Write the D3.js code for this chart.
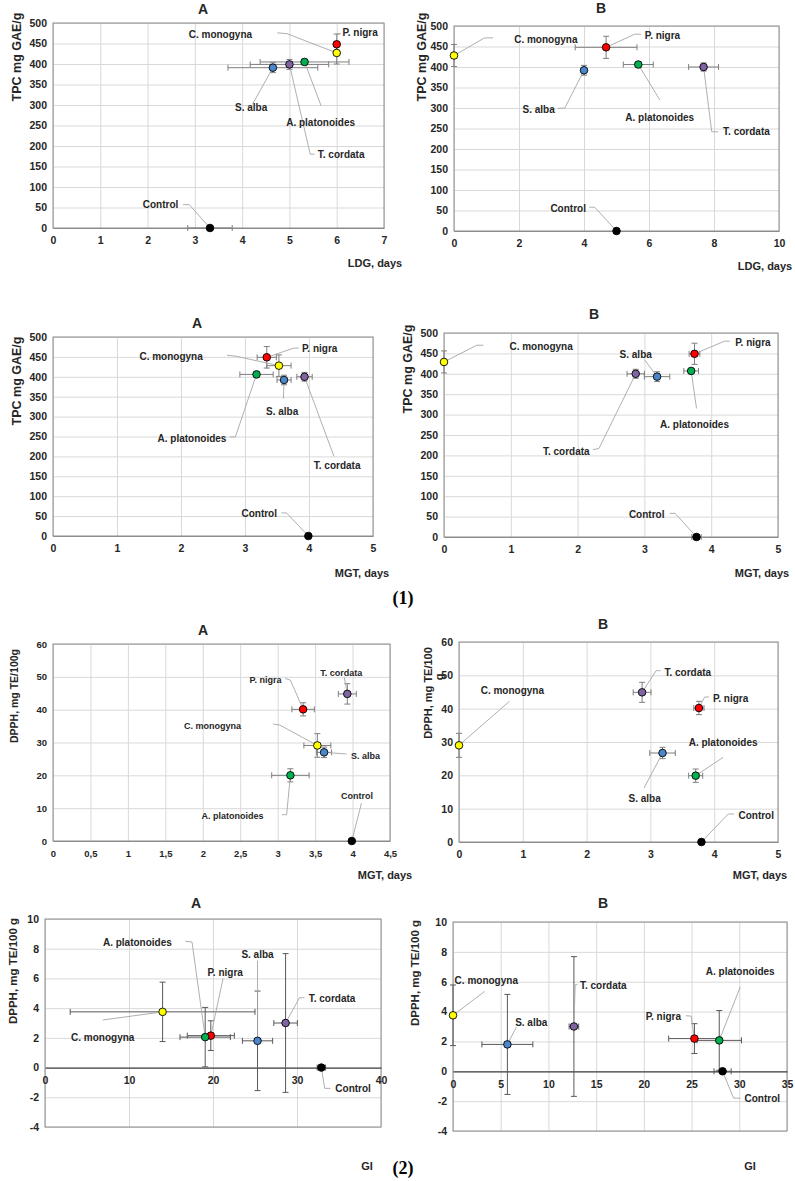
<!DOCTYPE html>
<html>
<head>
<meta charset="utf-8">
<script src="https://cdn.jsdelivr.net/npm/d3@7"></script>
<style>
  body { margin: 0; background: #fff; }
  svg { display: block; }
  text { font-family: "Liberation Sans", Arial, sans-serif; fill: #262626; }
  text.partno { font-family: "Liberation Serif", "Times New Roman", serif; fill: #000; }
</style>
</head>
<body>
<script>
// order of every series array below
const species = ["P. nigra", "C. monogyna", "A. platonoides", "S. alba", "T. cordata", "Control"];
const speciesColor = ["#ff0000", "#ffff00", "#00b050", "#4a86c8", "#8064a2", "#000000"];

// (1) TPC vs LDG, A
const ldgA_x    = [6.0, 6.0, 5.32, 4.65, 5.0, 3.32];
const ldgA_y    = [448, 427, 405, 391, 399, 0];
const ldgA_xErr = [0, 0, 0.94, 0.95, 0.83, 0.47];
const ldgA_yErr = [25, 27, 7, 12, 12, 0];

// (1) TPC vs LDG, B
const ldgB_x    = [4.68, 0, 5.67, 4.0, 7.68, 5.0];
const ldgB_y    = [448, 428, 406, 392, 400, 0];
const ldgB_xErr = [0.95, 0, 0.46, 0, 0.46, 0];
const ldgB_yErr = [27, 27, 6, 12, 10, 0];

// (1) TPC vs MGT, A
const mgtA_x    = [3.34, 3.53, 3.18, 3.61, 3.93, 3.99];
const mgtA_y    = [449, 428, 406, 392, 400, 0];
const mgtA_xErr = [0.15, 0.19, 0.26, 0.11, 0.12, 0];
const mgtA_yErr = [27, 27, 6, 12, 11, 0];

// (1) TPC vs MGT, B
const mgtB_x    = [3.75, 0, 3.7, 3.19, 2.87, 3.78];
const mgtB_y    = [449, 429, 407, 393, 400, 0];
const mgtB_xErr = [0.08, 0, 0.11, 0.19, 0.13, 0.07];
const mgtB_yErr = [26, 27, 6, 12, 11, 0];

// (2) DPPH vs MGT, A
const dppMgtA_x    = [3.34, 3.53, 3.17, 3.62, 3.93, 3.99];
const dppMgtA_y    = [40.1, 29.1, 20.0, 27.0, 44.8, 0];
const dppMgtA_xErr = [0.15, 0.18, 0.25, 0.1, 0.12, 0];
const dppMgtA_yErr = [2.0, 3.6, 2.0, 1.6, 3.1, 0];

// (2) DPPH vs MGT, B
const dppMgtB_x    = [3.76, 0, 3.71, 3.19, 2.87, 3.8];
const dppMgtB_y    = [40.2, 29.0, 19.9, 26.7, 44.9, 0];
const dppMgtB_xErr = [0.08, 0, 0.11, 0.2, 0.14, 0];
const dppMgtB_yErr = [2.0, 3.6, 2.0, 1.7, 3.0, 0];

// (2) DPPH vs GI, A
const giA_x    = [19.74, 14.0, 19.07, 25.3, 28.64, 32.9];
const giA_y    = [2.15, 3.75, 2.05, 1.8, 3.0, 0];
const giA_xErr = [2.8, 11.0, 3.0, 1.8, 1.4, 0.5];
const giA_yErr = [1.0, 2.0, 2.0, 3.35, 4.67, 0];

// (2) DPPH vs GI, B
const giB_x    = [25.3, 0, 27.9, 5.7, 12.67, 28.25];
const giB_y    = [2.19, 3.75, 2.07, 1.8, 3.0, 0];
const giB_xErr = [2.7, 0, 2.33, 2.67, 0.5, 0.9];
const giB_yErr = [1.0, 2.03, 2.0, 3.35, 4.68, 0];

// label placement (data units): t = text anchor point, a = text-anchor, l = leader points before the marker
const panels = [
  { title: "A", titlePos: [203, 9], box: [53, 23, 384, 228], xDomain: [0, 7], xStep: 1, yDomain: [0, 500], yStep: 50,
    xs: ldgA_x, ys: ldgA_y, xe: ldgA_xErr, ye: ldgA_yErr,
    yTitle: "TPC mg GAE/g", yTitlePos: [17, 57], yTitleSize: 12.5, xTitle: "LDG, days", xTitlePos: [375, 263],
    labels: [
      { t: [6.12, 476], a: "start", l: [[6.09, 474], [6.0, 474]] },
      { t: [4.21, 471], a: "end", l: [[4.74, 476], [4.95, 474]] },
      { t: [5.66, 257], a: "middle", l: [[5.67, 298]] },
      { t: [4.19, 295], a: "middle", l: [[4.22, 302]] },
      { t: [5.6, 179], a: "start", l: [[5.53, 180], [5.44, 180]] },
      { t: [2.65, 57], a: "end", l: [[2.75, 57], [2.88, 57]] }
    ] },
  { title: "B", titlePos: [601, 8], box: [454, 26, 779, 231], xDomain: [0, 10], xStep: 2, yDomain: [0, 500], yStep: 50,
    xs: ldgB_x, ys: ldgB_y, xe: ldgB_xErr, ye: ldgB_yErr,
    yTitle: "TPC mg GAE/g", yTitlePos: [422, 57], yTitleSize: 12.5, xTitle: "LDG, days", xTitlePos: [765, 266],
    labels: [
      { t: [5.87, 478], a: "start", l: [[5.75, 480], [5.56, 480]] },
      { t: [3.8, 466], a: "end", l: [[1.2, 471], [0.94, 471]] },
      { t: [6.33, 277], a: "middle", l: [[6.33, 320]] },
      { t: [3.1, 297], a: "end", l: [[3.2, 299], [3.41, 300]] },
      { t: [8.28, 242], a: "start", l: [[8.13, 242], [7.93, 242]] },
      { t: [4.06, 55], a: "end", l: [[4.16, 58], [4.33, 58]] }
    ] },
  { title: "A", titlePos: [197, 323], box: [53, 337, 373, 536], xDomain: [0, 5], xStep: 1, yDomain: [0, 500], yStep: 50,
    xs: mgtA_x, ys: mgtA_y, xe: mgtA_xErr, ye: mgtA_yErr,
    yTitle: "TPC mg GAE/g", yTitlePos: [17, 381], yTitleSize: 12.5, xTitle: "MGT, days", xTitlePos: [362, 573],
    labels: [
      { t: [3.89, 471], a: "start", l: [[3.84, 472], [3.76, 472]] },
      { t: [2.34, 450], a: "end", l: [[2.72, 454], [2.85, 452]] },
      { t: [2.71, 246], a: "end", l: [[2.76, 249], [2.85, 249]] },
      { t: [3.58, 313], a: "middle", l: [[3.6, 345]] },
      { t: [4.44, 178], a: "middle", l: [[4.39, 200]] },
      { t: [3.5, 56], a: "end", l: [[3.57, 58], [3.65, 58]] }
    ] },
  { title: "B", titlePos: [594, 314], box: [444, 333, 778, 537], xDomain: [0, 5], xStep: 1, yDomain: [0, 500], yStep: 50,
    xs: mgtB_x, ys: mgtB_y, xe: mgtB_xErr, ye: mgtB_yErr,
    yTitle: "TPC mg GAE/g", yTitlePos: [408, 369], yTitleSize: 12.5, xTitle: "MGT, days", xTitlePos: [762, 573],
    labels: [
      { t: [4.36, 476], a: "start", l: [[4.28, 480], [4.2, 480]] },
      { t: [0.98, 466], a: "start", l: [[0.59, 470], [0.49, 470]] },
      { t: [3.75, 276], a: "middle", l: [[3.78, 315]] },
      { t: [2.87, 448], a: "middle", l: [[3.0, 435]] },
      { t: [2.18, 210], a: "end", l: [[2.23, 214], [2.32, 217]] },
      { t: [3.3, 55], a: "end", l: [[3.38, 58], [3.46, 58]] }
    ] },
  { title: "A", titlePos: [203, 630], box: [53, 644, 390, 841], xDomain: [0, 4.5], xStep: 0.5, yDomain: [0, 60], yStep: 10,
    xs: dppMgtA_x, ys: dppMgtA_y, xe: dppMgtA_xErr, ye: dppMgtA_yErr, comma: true, small: true,
    yTitle: "DPPH, mg TE/100g", yTitlePos: [14, 696], yTitleSize: 10.5, xTitle: "MGT, days", xTitlePos: [385, 875],
    labels: [
      { t: [3.05, 49], a: "end", l: [[3.1, 49.5], [3.17, 49]] },
      { t: [2.51, 35], a: "end", l: [[2.94, 35.6], [3.03, 35.3]] },
      { t: [2.81, 7.7], a: "end", l: [[3.06, 8], [3.12, 8]] },
      { t: [3.98, 26], a: "start", l: [[3.92, 26.5]] },
      { t: [3.85, 51.3], a: "middle", l: [[3.89, 49.8]] },
      { t: [4.06, 13.8], a: "middle", l: [[4.12, 11.6]] }
    ] },
  { title: "B", titlePos: [603, 624], box: [459, 642, 778, 842], xDomain: [0, 5], xStep: 1, yDomain: [0, 60], yStep: 10,
    xs: dppMgtB_x, ys: dppMgtB_y, xe: dppMgtB_xErr, ye: dppMgtB_yErr,
    yTitle: "DPPH, mg TE/100", yTitle2: "g", yTitle2Pos: [439, 677], yTitlePos: [428, 693], yTitleSize: 11,
    xTitle: "MGT, days", xTitlePos: [760, 875],
    labels: [
      { t: [3.98, 43.2], a: "start", l: [[3.92, 43.5], [3.85, 43.5]] },
      { t: [0.34, 45.4], a: "start", l: [[0.79, 42.2]] },
      { t: [4.14, 29.9], a: "middle", l: [[4.14, 25.4]] },
      { t: [2.91, 13.2], a: "middle", l: [[2.9, 16.2]] },
      { t: [3.22, 50.9], a: "start", l: [[3.16, 51.4], [3.09, 51.4]] },
      { t: [4.38, 8], a: "start", l: [[4.31, 8.4], [4.22, 8.4]] }
    ] },
  { title: "A", titlePos: [196, 903], box: [45, 919, 381, 1127], xDomain: [0, 40], xStep: 10, yDomain: [-4, 10], yStep: 2,
    xs: giA_x, ys: giA_y, xe: giA_xErr, ye: giA_yErr, dark: true,
    yTitle: "DPPH, mg TE/100 g", yTitlePos: [13, 971], yTitleSize: 11.5, xTitle: "GI", xTitlePos: [367, 1166],
    labels: [
      { t: [21.45, 6.42], a: "middle", l: [[21.2, 6.0]] },
      { t: [6.87, 2.03], a: "middle", l: [[6.87, 3.2]] },
      { t: [15.1, 8.43], a: "end", l: [[16.7, 8.5], [17.5, 8.45]] },
      { t: [25.3, 7.6], a: "middle", l: [[25.3, 7.2]] },
      { t: [31.4, 4.67], a: "start", l: [[30.9, 4.7], [30.3, 4.7]] },
      { t: [34.56, -1.43], a: "start", l: [[34.0, -1.4], [33.3, -1.4]] }
    ] },
  { title: "B", titlePos: [603, 903], box: [453, 922, 787, 1131], xDomain: [0, 35], xStep: 5, yDomain: [-4, 10], yStep: 2,
    xs: giB_x, ys: giB_y, xe: giB_xErr, ye: giB_yErr, dark: true,
    yTitle: "DPPH, mg TE/100 g", yTitlePos: [415, 973], yTitleSize: 11.5, xTitle: "GI", xTitlePos: [750, 1166],
    labels: [
      { t: [23.9, 3.68], a: "end", l: [[24.4, 3.72], [24.95, 3.7]] },
      { t: [0.17, 6.05], a: "start", l: [[3.32, 5.35]] },
      { t: [30.1, 6.7], a: "middle", l: [[30.1, 5.65]] },
      { t: [8.2, 3.25], a: "middle", l: [[6.65, 2.97]] },
      { t: [13.3, 5.75], a: "start", l: [[13.05, 5.8], [12.8, 5.8]] },
      { t: [30.55, -1.83], a: "start", l: [[30.1, -1.8], [29.4, -1.8]] }
    ] }
];

const svg = d3.select("body")
  .append("svg")
  .attr("width", 795)
  .attr("height", 1181);

const line = d3.line();

panels.forEach(p => {
  const [x0, y0, x1, y1] = p.box;
  const x = d3.scaleLinear().domain(p.xDomain).range([x0, x1]);
  const y = d3.scaleLinear().domain(p.yDomain).range([y1, y0]);
  const xTicks = d3.range(p.xDomain[0], p.xDomain[1] + p.xStep / 2, p.xStep);
  const yTicks = d3.range(p.yDomain[0], p.yDomain[1] + p.yStep / 2, p.yStep);
  const fmt = p.comma ? (d => String(d).replace(".", ",")) : (d => String(d));
  const tickSize = p.small ? 9.5 : 10.5;
  const g = svg.append("g");

  // grid
  g.append("g")
    .attr("transform", `translate(0,${y1})`)
    .call(d3.axisBottom(x).tickValues(xTicks).tickSize(-(y1 - y0)).tickFormat(""))
    .call(a => a.select(".domain").remove())
    .selectAll("line").attr("stroke", "#d9d9d9");
  g.append("g")
    .attr("transform", `translate(${x0},0)`)
    .call(d3.axisLeft(y).tickValues(yTicks).tickSize(-(x1 - x0)).tickFormat(""))
    .call(a => a.select(".domain").remove())
    .selectAll("line").attr("stroke", "#d9d9d9");

  // plot border
  g.append("rect")
    .attr("x", x0).attr("y", y0)
    .attr("width", x1 - x0).attr("height", y1 - y0)
    .attr("fill", "none").attr("stroke", "#8c8c8c").attr("stroke-width", 1);

  // y axis labels
  g.append("g")
    .attr("transform", `translate(${x0},0)`)
    .call(d3.axisLeft(y).tickValues(yTicks).tickSize(0).tickPadding(6).tickFormat(fmt))
    .call(a => a.select(".domain").remove())
    .selectAll("text")
      .attr("font-size", tickSize).attr("font-weight", "bold");

  // x axis at zero
  const xa = g.append("g")
    .attr("transform", `translate(0,${y(0)})`)
    .call(d3.axisBottom(x).tickValues(xTicks).tickSize(0).tickPadding(9).tickFormat(fmt));
  xa.select(".domain")
    .attr("stroke", p.dark ? "#404040" : "#8c8c8c")
    .attr("stroke-width", p.dark ? 1.2 : 1);
  xa.selectAll("text")
    .attr("font-size", tickSize).attr("font-weight", "bold");

  const errColor = p.dark ? "#595959" : "#7f7f7f";
  const cap = 3;
  const idx = d3.range(species.length);

  // error bars
  idx.forEach(i => {
    const cx = x(p.xs[i]), cy = y(p.ys[i]);
    const eb = g.append("g").attr("stroke", errColor).attr("stroke-width", 1).attr("fill", "none");
    if (p.xe[i] > 0) {
      const a = x(p.xs[i] - p.xe[i]), b = x(p.xs[i] + p.xe[i]);
      eb.append("path").attr("d", line([[a, cy], [b, cy]]));
      eb.append("path").attr("d", line([[a, cy - cap], [a, cy + cap]]));
      eb.append("path").attr("d", line([[b, cy - cap], [b, cy + cap]]));
    }
    if (p.ye[i] > 0) {
      const a = y(p.ys[i] - p.ye[i]), b = y(p.ys[i] + p.ye[i]);
      eb.append("path").attr("d", line([[cx, a], [cx, b]]));
      eb.append("path").attr("d", line([[cx - cap, a], [cx + cap, a]]));
      eb.append("path").attr("d", line([[cx - cap, b], [cx + cap, b]]));
    }
  });

  // leader lines
  g.selectAll(".leader")
    .data(idx)
    .join("path")
      .attr("class", "leader")
      .attr("fill", "none")
      .attr("stroke", "#a6a6a6")
      .attr("stroke-width", 0.9)
      .attr("d", i => line(p.labels[i].l.map(d => [x(d[0]), y(d[1])]).concat([[x(p.xs[i]), y(p.ys[i])]])));

  // points
  g.selectAll(".pt")
    .data(idx)
    .join("circle")
      .attr("class", "pt")
      .attr("cx", i => x(p.xs[i]))
      .attr("cy", i => y(p.ys[i]))
      .attr("r", 3.8)
      .attr("fill", i => speciesColor[i])
      .attr("stroke", "#000")
      .attr("stroke-width", 0.9);

  // data labels
  g.selectAll(".lbl")
    .data(idx)
    .join("text")
      .attr("class", "lbl")
      .attr("x", i => x(p.labels[i].t[0]))
      .attr("y", i => y(p.labels[i].t[1]))
      .attr("text-anchor", i => p.labels[i].a)
      .attr("dominant-baseline", "central")
      .attr("font-size", p.small ? 9 : 10)
      .attr("font-weight", "bold")
      .text(i => species[i]);

  // titles
  g.append("text")
    .attr("x", p.titlePos[0]).attr("y", p.titlePos[1])
    .attr("text-anchor", "middle").attr("dominant-baseline", "central")
    .attr("font-size", 14).attr("font-weight", "bold")
    .text(p.title);

  g.append("text")
    .attr("transform", `translate(${p.yTitlePos[0]},${p.yTitlePos[1]}) rotate(-90)`)
    .attr("text-anchor", "middle").attr("dominant-baseline", "central")
    .attr("font-size", p.yTitleSize).attr("font-weight", "bold")
    .text(p.yTitle);
  if (p.yTitle2) {
    g.append("text")
      .attr("transform", `translate(${p.yTitle2Pos[0]},${p.yTitle2Pos[1]}) rotate(-90)`)
      .attr("text-anchor", "middle").attr("dominant-baseline", "central")
      .attr("font-size", p.yTitleSize).attr("font-weight", "bold")
      .text(p.yTitle2);
  }

  g.append("text")
    .attr("x", p.xTitlePos[0]).attr("y", p.xTitlePos[1])
    .attr("text-anchor", "middle").attr("dominant-baseline", "central")
    .attr("font-size", 11).attr("font-weight", "bold")
    .text(p.xTitle);
});

// figure part numbers
[["(1)", 598], ["(2)", 1168]].forEach(([txt, yy]) => {
  svg.append("text")
    .attr("class", "partno")
    .attr("x", 403).attr("y", yy)
    .attr("text-anchor", "middle").attr("dominant-baseline", "central")
    .attr("font-size", 18).attr("font-weight", "bold")
    .text(txt);
});
</script>
</body>
</html>
